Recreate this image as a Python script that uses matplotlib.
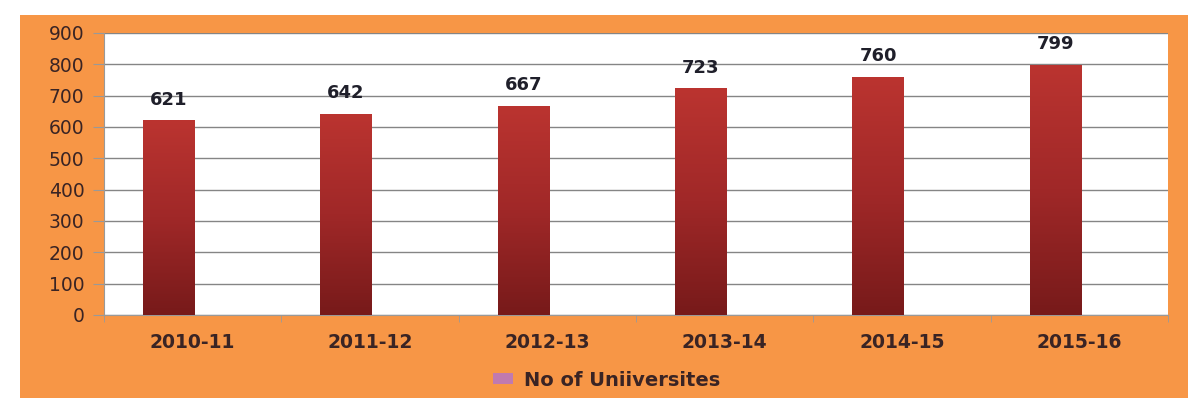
import numpy as np
import matplotlib.pyplot as plt
from matplotlib.colors import LinearSegmentedColormap
from matplotlib.patches import Rectangle

# data
years = ["2010-11", "2011-12", "2012-13", "2013-14", "2014-15", "2015-16"]
universities = [621, 642, 667, 723, 760, 799]
yticks = [0, 100, 200, 300, 400, 500, 600, 700, 800, 900]

orange = "#f79646"
text_col = "#3a2424"

fig = plt.figure(figsize=(11.94, 4.03), dpi=100)
fig.patch.set_facecolor("white")

# orange chart frame (background axes)
bg = fig.add_axes([20 / 1194, 5 / 403, 1168 / 1194, 383 / 403], zorder=-1)
bg.set_facecolor(orange)
bg.set_xticks([])
bg.set_yticks([])
for s in bg.spines.values():
    s.set_visible(False)

ax = fig.add_axes([104 / 1194, 1 - 315 / 403, 1064 / 1194, 282 / 403])
ax.set_facecolor("white")

x = np.arange(len(years))
# bars sit left of the category centre (excel cluster with an empty 2nd series)
bx = x - 0.135
bars = ax.bar(bx, universities, width=0.29, color="none", edgecolor="none", zorder=3)

# vertical gradient on each bar, darker at bottom
cmap = LinearSegmentedColormap.from_list("bar", ["#771a1a", "#a02828", "#bb3430"])
grad = np.linspace(0, 1, 256).reshape(-1, 1)
for b in bars:
    x0, y0, w, h = b.get_x(), b.get_y(), b.get_width(), b.get_height()
    im = ax.imshow(grad, cmap=cmap, origin="lower", aspect="auto",
                   extent=[x0, x0 + w, y0, y0 + h], zorder=3)
    im.set_clip_path(b)

for xi, v in zip(bx, universities):
    ax.annotate(str(v), (xi, v), xytext=(0, 15), textcoords="offset points",
                ha="center", va="center", fontsize=13, fontweight="bold",
                color="#1f1f2a", zorder=4)

ax.set_xlim(-0.5, len(years) - 0.5)
ax.set_ylim(0, 900)
ax.set_yticks(yticks)
ax.set_yticklabels([str(t) for t in yticks], fontsize=13.5, color=text_col)
ax.set_xticks(x)
ax.set_xticklabels(years, fontsize=13.5, fontweight="bold", color=text_col)
ax.tick_params(axis="x", length=0, pad=13)
ax.tick_params(axis="y", length=8, color="#999999", pad=6)
ax.set_xticks(np.arange(len(years) + 1) - 0.5, minor=True)
ax.tick_params(axis="x", which="minor", length=5, color="#999999")

ax.grid(axis="y", color="#858585", linewidth=1, zorder=1)
ax.set_axisbelow(True)
for s in ["top", "right"]:
    ax.spines[s].set_visible(False)
ax.spines["left"].set_color("#999999")
ax.spines["bottom"].set_color("#999999")

handle = Rectangle((0, 0), 1, 1, facecolor="#c07ab0")
fig.legend([handle], ["No of Uniiversites"], loc="center",
           bbox_to_anchor=(607 / 1194, 1 - 380 / 403), frameon=False,
           prop={"size": 14, "weight": "bold"}, labelcolor=text_col,
           handlelength=1.0, handleheight=0.5, handletextpad=0.6)

fig.savefig("out.png", dpi=100, facecolor=fig.get_facecolor())
